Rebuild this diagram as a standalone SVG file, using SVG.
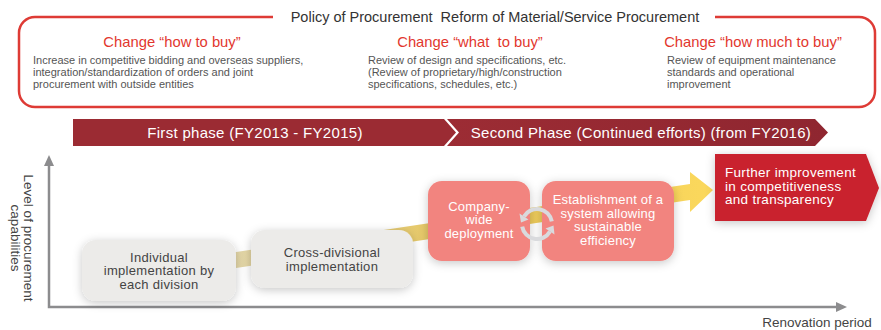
<svg xmlns="http://www.w3.org/2000/svg" width="881" height="330" viewBox="0 0 881 330">
  <style>
    text { font-family: "Liberation Sans", Arial, sans-serif; }
    .pre { white-space: pre; }
    .title { font-size: 14.5px; fill: #333333; }
    .head { font-size: 14.8px; fill: #e2372e; text-anchor: middle; }
    .desc { font-size: 11px; fill: #555555; }
    .phase { font-size: 15px; letter-spacing: 0.3px; fill: #ffffff; text-anchor: middle; }
    .axislbl { font-size: 13.5px; fill: #444444; text-anchor: middle; }
    .gray-node { fill: #ecebe9; }
    .pink-node { fill: #f2847f; }
    .dark-txt { font-size: 13px; letter-spacing: 0.3px; fill: #444444; text-anchor: middle; }
    .light-txt { font-size: 13px; letter-spacing: 0.2px; fill: #ffffff; text-anchor: middle; }
    .end-txt { font-size: 13.5px; letter-spacing: 0.3px; fill: #ffffff; }
    .axis { stroke: #8c8c8e; stroke-width: 2.5; fill: none; }
    .cycle { stroke: #d9dadd; stroke-width: 4; fill: none; }
  </style>
  <defs>
    <filter id="shadow" x="-30%" y="-30%" width="160%" height="160%">
      <feDropShadow dx="0" dy="2" stdDeviation="5" flood-color="#000000" flood-opacity="0.22"/>
    </filter>
    <linearGradient id="bandGrad" gradientUnits="userSpaceOnUse" x1="170" y1="0" x2="713" y2="0">
      <stop offset="0" stop-color="#e4dcbd"/>
      <stop offset="0.3" stop-color="#e3cf8a"/>
      <stop offset="0.55" stop-color="#e8c65a"/>
      <stop offset="1" stop-color="#fbd85c"/>
    </linearGradient>
    <linearGradient id="phase2Grad" x1="0" y1="0" x2="1" y2="0">
      <stop offset="0" stop-color="#9c2c34"/>
      <stop offset="1" stop-color="#8f2630"/>
    </linearGradient>
  </defs>

  <!-- Policy frame -->
  <g id="policy">
    <path d="M273,17 H35 A16,16 0 0 0 19,33 V91 A16,16 0 0 0 35,107 H859 A16,16 0 0 0 875,91 V33 A16,16 0 0 0 859,17 H715" fill="none" stroke="#de3b35" stroke-width="2.5"/>
    <text class="title pre" x="495" y="22" text-anchor="middle">Policy of Procurement  Reform of Material/Service Procurement</text>

    <text class="head" x="172" y="47">Change “how to buy”</text>
    <text class="desc" x="33" y="64">Increase in competitive bidding and overseas suppliers,</text>
    <text class="desc" x="33" y="76">integration/standardization of orders and joint</text>
    <text class="desc" x="33" y="88">procurement with outside entities</text>

    <text class="head pre" x="470" y="47">Change “what  to buy”</text>
    <text class="desc" x="368" y="64">Review of design and specifications, etc.</text>
    <text class="desc" x="368" y="76">(Review of proprietary/high/construction</text>
    <text class="desc" x="368" y="88">specifications, schedules, etc.)</text>

    <text class="head" x="753" y="47">Change “how much to buy”</text>
    <text class="desc" x="667" y="64">Review of equipment maintenance</text>
    <text class="desc" x="667" y="76">standards and operational</text>
    <text class="desc" x="667" y="88">improvement</text>
  </g>

  <!-- Phase bar -->
  <g id="phase1">
    <polygon points="73,119 444,119 456,132.5 444,146 73,146" fill="#9b2b33"/>
    <text class="phase" x="255" y="138">First phase (FY2013 - FY2015)</text>
  </g>
  <g id="phase2">
    <polygon points="447,119 815,119 828,132.5 815,146 447,146 459,132.5" fill="url(#phase2Grad)"/>
    <text class="phase" x="641" y="138">Second Phase (Continued efforts) (from FY2016)</text>
  </g>

  <!-- Axes -->
  <g id="axes">
    <path class="axis" d="M49,162 V307 H838"/>
    <polygon points="49,155 44,166 54,166" fill="#8c8c8e"/>
    <polygon points="847,307 836,302 836,312" fill="#8c8c8e"/>
    <text class="axislbl" transform="translate(24,238) rotate(90)">Level of procurement</text>
    <text class="axislbl" transform="translate(11,238) rotate(90)">capabilities</text>
    <text class="axislbl" x="817" y="327">Renovation period</text>
  </g>

  <!-- Progress arrow -->
  <g id="connectors">
    <polygon points="170,262 690,184 690,172 713,190 690,212 690,200 170,278" fill="url(#bandGrad)"/>
  </g>

  <!-- Stages -->
  <g id="stage-individual">
    <rect class="gray-node" x="82" y="240" width="154" height="61" rx="14" filter="url(#shadow)"/>
    <text class="dark-txt" x="159" y="261.5">Individual</text>
    <text class="dark-txt" x="159" y="275">implementation by</text>
    <text class="dark-txt" x="159" y="288.5">each division</text>
  </g>
  <g id="stage-cross">
    <rect class="gray-node" x="251" y="230" width="162" height="58" rx="14" filter="url(#shadow)"/>
    <text class="dark-txt" x="332" y="257">Cross-divisional</text>
    <text class="dark-txt" x="332" y="270.5">implementation</text>
  </g>
  <g id="stage-company">
    <rect class="pink-node" x="428" y="181" width="102" height="80" rx="14" filter="url(#shadow)"/>
    <text class="light-txt" x="479" y="210.5">Company-</text>
    <text class="light-txt" x="479" y="224">wide</text>
    <text class="light-txt" x="479" y="237.5">deployment</text>
  </g>
  <g id="stage-system">
    <rect class="pink-node" x="542" y="181" width="132" height="80" rx="14" filter="url(#shadow)"/>
    <text class="light-txt" x="608" y="204">Establishment of a</text>
    <text class="light-txt" x="608" y="217.5">system allowing</text>
    <text class="light-txt" x="608" y="231">sustainable</text>
    <text class="light-txt" x="608" y="244.5">efficiency</text>
  </g>
  <g id="stage-further">
    <polygon points="715,154 866,154 879,188 866,221 715,221" fill="#c9232d" filter="url(#shadow)"/>
    <text class="end-txt" x="725" y="177">Further improvement</text>
    <text class="end-txt" x="725" y="190.5">in competitiveness</text>
    <text class="end-txt" x="725" y="204">and transparency</text>
  </g>

  <!-- Cycle icon between deployment and system -->
  <g id="cycle">
    <path class="cycle" d="M551.8,221.4 A15,15 0 0 0 524,216.5"/>
    <polygon points="519.5,213.5 528.5,219.5 521,222.5" fill="#d9dadd"/>
    <path class="cycle" d="M522.2,226.6 A15,15 0 0 0 550,231.5"/>
    <polygon points="554.5,234.5 545.5,228.5 553.5,225.5" fill="#d9dadd"/>
  </g>
</svg>
